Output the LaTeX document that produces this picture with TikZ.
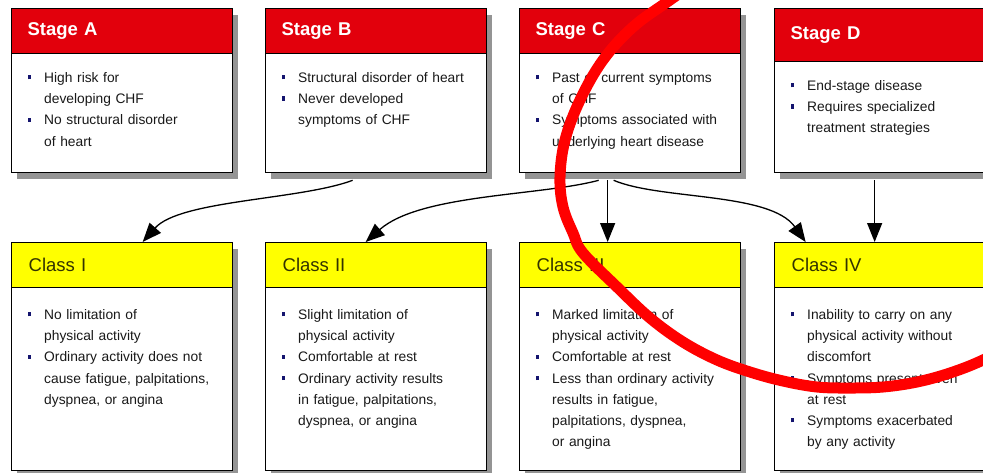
\documentclass[tikz,border=0pt]{standalone}
\usepackage{fontspec}
\setmainfont{Liberation Sans}
\usetikzlibrary{arrows.meta,shadows}
\definecolor{hdrred}{RGB}{226,0,12}
\definecolor{hdryel}{RGB}{255,255,0}
\definecolor{bulblue}{RGB}{20,20,110}
\definecolor{olivetxt}{RGB}{50,50,0}
\definecolor{markred}{RGB}{255,0,0}
\newcommand\bodyf{\fontsize{13.8}{21.2}\selectfont}
\newcommand\itm[1]{\par\noindent\hangindent=17pt\hangafter=1\makebox[17pt][l]{\strut\hspace{0.5pt}\textcolor{bulblue}{\rule[3pt]{3.2pt}{4.2pt}}}#1\par}
\tikzset{
  card/.style={draw=black, line width=1.3pt, fill=white, rectangle, anchor=north west,
    inner sep=0pt, minimum width=221pt, minimum height=#1,
    drop shadow={shadow xshift=5pt, shadow yshift=-6pt, fill=black!42, opacity=1}},
  redhdr/.style={draw=black, line width=1.3pt, fill=hdrred, rectangle, anchor=north west,
    inner xsep=16pt, inner ysep=0pt, text width=189pt, align=left, minimum height=#1,
    text=white, font=\bfseries\fontsize{18.5}{20}\selectfont},
  yelhdr/.style={draw=black, line width=1.3pt, fill=hdryel, rectangle, anchor=north west,
    inner xsep=17pt, inner ysep=0pt, text width=187pt, align=left, minimum height=45pt,
    text=olivetxt, font=\fontsize{18.5}{20}\selectfont},
  btxt/.style={anchor=north west, inner sep=0pt, text width=200pt, align=left,
    font=\bodyf, text=black!90},
  conn/.style={line width=1.3pt, -{Triangle[length=19pt,width=15pt]}},
}
\begin{document}
\begin{tikzpicture}[x=1pt,y=-1pt]
\useasboundingbox (0,0) rectangle (983,472);
\clip (0,0) rectangle (983,472);
\fill[white] (0,0) rectangle (983,472);

% Stage boxes
\node[card=164pt] (SA) at (11,8) {};
\node[card=164pt] (SB) at (265,8) {};
\node[card=164pt] (SC) at (519,8) {};
\node[card=164pt] (SD) at (774,8) {};
\node[redhdr=45pt] (SAh) at (SA.north west) {Stage A};
\node[redhdr=45pt] (SBh) at (SB.north west) {Stage B};
\node[redhdr=45pt] (SCh) at (SC.north west) {Stage C};
\node[redhdr=53pt] (SDh) at (SD.north west) {Stage D};

\node[btxt] (SAt) at (27,61) {\itm{High risk for\newline developing CHF}\itm{No structural disorder\newline of heart}};
\node[btxt] (SBt) at (281,61) {\itm{Structural disorder of heart}\itm{Never developed\newline symptoms of CHF}};
\node[btxt] (SCt) at (535,61) {\itm{Past or current symptoms\newline of CHF}\itm{Symptoms associated with\newline underlying heart disease}};
\node[btxt] (SDt) at (790,69) {\itm{End-stage disease}\itm{Requires specialized\newline treatment strategies}};

% Class boxes
\node[card=228pt] (C1) at (11,242) {};
\node[card=228pt] (C2) at (265,242) {};
\node[card=228pt] (C3) at (519,242) {};
\node[card=228pt] (C4) at (774,242) {};
\node[yelhdr] (C1h) at (C1.north west) {Class I};
\node[yelhdr] (C2h) at (C2.north west) {Class II};
\node[yelhdr] (C3h) at (C3.north west) {Class III};
\node[yelhdr] (C4h) at (C4.north west) {Class IV};

\node[btxt] (C1t) at (27,298) {\itm{No limitation of\newline physical activity}\itm{Ordinary activity does not\newline cause fatigue, palpitations,\newline dyspnea, or angina}};
\node[btxt] (C2t) at (281,298) {\itm{Slight limitation of\newline physical activity}\itm{Comfortable at rest}\itm{Ordinary activity results\newline in fatigue, palpitations,\newline dyspnea, or angina}};
\node[btxt] (C3t) at (535,298) {\itm{Marked limitation of\newline physical activity}\itm{Comfortable at rest}\itm{Less than ordinary activity\newline results in fatigue,\newline palpitations, dyspnea,\newline or angina}};
\node[btxt] (C4t) at (790,298) {\itm{Inability to carry on any\newline physical activity without\newline discomfort}\itm{Symptoms present even\newline at rest}\itm{Symptoms exacerbated\newline by any activity}};

% Connectors
\draw[conn] ([shift={(-23.5,7)}]SB.south) .. controls (300,200) and (180,200) .. ([xshift=20.5pt]C1.north);
\draw[conn] ([shift={(-31.5,7)}]SC.south) .. controls (540,196) and (420,194) .. ([xshift=-10.5pt]C2.north);
\draw[conn] ([shift={(-22.5,7)}]SC.south) -- ([xshift=-22.5pt]C3.north);
\draw[conn] ([shift={(-16.5,7)}]SC.south) .. controls (660,200) and (770,192) .. ([xshift=-79.5pt]C4.north);
\draw[conn] ([shift={(-10.5,7)}]SD.south) -- ([xshift=-10.5pt]C4.north);

% Hand-drawn red mark
\draw[markred, line width=11pt, line cap=round] plot[smooth, tension=0.6] coordinates {
 (720,-35) (670,0) (633,27) (603,60) (580,100) (565,140) (560,177) (563,207) (573,233)
 (583,253) (617,287) (650,318) (683,342) (717,360) (750,372) (783,381) (817,387)
 (850,388) (883,387) (917,382) (950,373) (983,360) (1020,340)};
\end{tikzpicture}
\end{document}
